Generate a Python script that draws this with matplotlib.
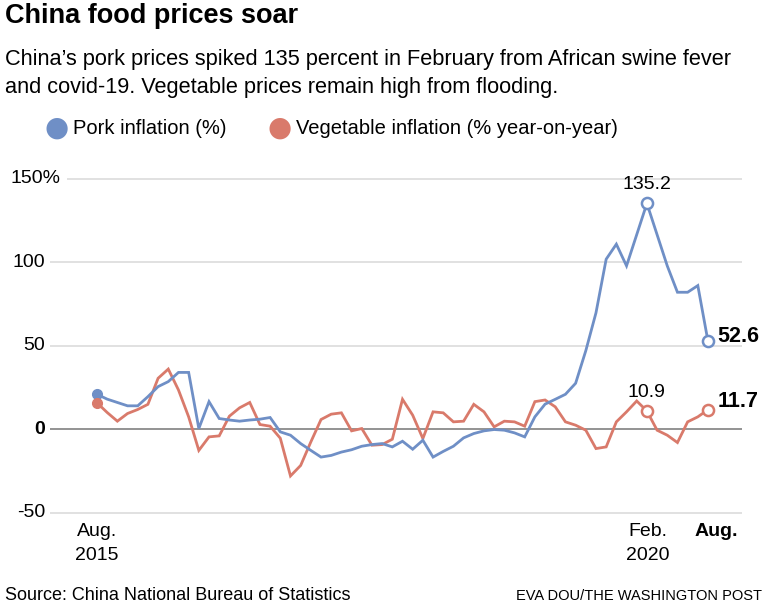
import matplotlib
matplotlib.use("Agg")
import matplotlib.pyplot as plt
import numpy as np

plt.rcParams['font.family'] = ['Liberation Sans', 'DejaVu Sans']

# monthly values, Aug 2015 .. Aug 2020
pork = [20.9, 18, 16, 14, 14, 19.5, 25.5, 28.5, 34, 34,
        0.4, 16.5, 6.4, 5.5, 4.8, 5.5, 6, 7, -1.6, -3.6,
        -8.6, -12.7, -16.7, -15.7, -13.7, -12.3, -10.2, -9.2, -8.6, -10.6,
        -7.2, -12, -6.6, -16.7, -13.3, -10.2, -5.2, -2.6, -1, -0.2,
        -0.6, -2.2, -4.6, 7.4, 15, 17.9, 20.9, 27.5, 47, 69.7,
        101.8, 110.8, 97.8, 116.5, 135.2, 116.5, 97.8, 82, 82, 86,
        52.6]
veg = [15.8, 10, 4.8, 9.4, 11.8, 14.9, 30.5, 36, 23.5, 7.4,
       -12.7, -4.6, -4, 7.8, 12.8, 16, 2.8, 1.8, -5.4, -28,
       -21.7, -7.6, 5.8, 9, 9.8, -1, 0.4, -9.6, -9.2, -6,
       17.9, 8.4, -5.6, 10.4, 9.8, 4.4, 4.8, 14.9, 10.4, 1.4,
       4.8, 4.4, 1.8, 16.5, 17.5, 13.4, 4.4, 2.4, -0.6, -11.6,
       -10.6, 4.4, 10.4, 16.9, 10.9, -0.6, -3.6, -8, 4.4, 7.4,
       11.7]
months = np.arange(len(pork))
yticks = [150, 100, 50, 0, -50]
ytick_labels = ['150%', '100', '50', '0', '-50']
feb_idx = 54

blue = '#6f8fc6'
red = '#d97a6b'

W, H = 767, 609
fig = plt.figure(figsize=(W / 100, H / 100), dpi=100)

# pixel helpers for the plot box
px_per_month = (708 - 97) / 60
px_per_unit = 1.67
x0_px, y0_px = 97, 429.2
def dx(px):
    return (px - x0_px) / px_per_month
def dy(py):
    return (y0_px - py) / px_per_unit

left_px, right_px, top_px, bot_px = 50, 742, 170, 520
ax = fig.add_axes([left_px / W, 1 - bot_px / H, (right_px - left_px) / W, (bot_px - top_px) / H])
ax.set_xlim(dx(left_px), dx(right_px))
ax.set_ylim(dy(bot_px), dy(top_px))
ax.axis('off')

for v in yticks:
    start = dx(67) if v == 150 else dx(50)
    col = '#8a8a8a' if v == 0 else '#dcdcdc'
    ax.hlines(v, start, dx(right_px), color=col, lw=1.3 if v == 0 else 1.2, zorder=1)

ax.plot(months, pork, color=blue, lw=2.0, zorder=3, solid_joinstyle='miter')
ax.plot(months, veg, color=red, lw=2.0, zorder=2, solid_joinstyle='miter')

# start dots
ax.plot(months[0], pork[0], 'o', color=blue, ms=7, zorder=4)
ax.plot(months[0], veg[0], 'o', color=red, ms=7, zorder=4)
# hollow markers
for idx in (feb_idx, months[-1]):
    ax.plot(idx, pork[idx], 'o', mfc='white', mec=blue, mew=1.8, ms=8, zorder=5)
    ax.plot(idx, veg[idx], 'o', mfc='white', mec=red, mew=1.8, ms=8, zorder=5)

ax.text(feb_idx, pork[feb_idx] + 6, f'{pork[feb_idx]}', ha='center', va='bottom', fontsize=14)
ax.text(feb_idx, veg[feb_idx] + 6, f'{veg[feb_idx]}', ha='center', va='bottom', fontsize=14)
ax.text(months[-1] + 0.9, pork[-1] + 3, f'{pork[-1]}', ha='left', va='center', fontsize=15.5, fontweight='bold')
ax.text(months[-1] + 0.9, veg[-1] + 5, f'{veg[-1]}', ha='left', va='center', fontsize=15.5, fontweight='bold')

# y labels
for v, lab in zip(yticks, ytick_labels):
    if lab.endswith('%'):
        fig.text(11 / W, 1 - (y0_px - v * px_per_unit) / H, lab, ha='left', va='center', fontsize=14)
    else:
        fig.text(45 / W, 1 - (y0_px - v * px_per_unit) / H, lab, ha='right', va='center', fontsize=14,
                 fontweight='bold' if v == 0 else 'normal')

# x labels
fig.text(97 / W, 1 - 531 / H, 'Aug.', ha='center', va='center', fontsize=14)
fig.text(97 / W, 1 - 556 / H, '2015', ha='center', va='center', fontsize=14)
fig.text(648 / W, 1 - 531 / H, 'Feb.', ha='center', va='center', fontsize=14)
fig.text(648 / W, 1 - 556 / H, '2020', ha='center', va='center', fontsize=14)
fig.text(716 / W, 1 - 531 / H, 'Aug.', ha='center', va='center', fontsize=14, fontweight='bold')

# titles
fig.text(5 / W, 1 - 16 / H, 'China food prices soar', ha='left', va='center', fontsize=19.5, fontweight='bold')
fig.text(5 / W, 1 - 59 / H, 'China\u2019s pork prices spiked 135 percent in February from African swine fever',
         ha='left', va='center', fontsize=15.7)
fig.text(5 / W, 1 - 88 / H, 'and covid-19. Vegetable prices remain high from flooding.',
         ha='left', va='center', fontsize=15.7)

# legend
fig.text(57 / W, 1 - 128 / H, '\u25cf', color=blue, ha='center', va='center', fontsize=20, family='DejaVu Sans')
fig.text(73 / W, 1 - 128 / H, 'Pork inflation (%)', ha='left', va='center', fontsize=14.5)
fig.text(280 / W, 1 - 128 / H, '\u25cf', color=red, ha='center', va='center', fontsize=20, family='DejaVu Sans')
fig.text(296 / W, 1 - 128 / H, 'Vegetable inflation (% year-on-year)', ha='left', va='center', fontsize=14.5)

# footer
fig.text(5 / W, 1 - 595 / H, 'Source: China National Bureau of Statistics', ha='left', va='center', fontsize=13)
fig.text(762 / W, 1 - 596 / H, 'EVA DOU/THE WASHINGTON POST', ha='right', va='center', fontsize=10.5)

fig.savefig('out.png', dpi=100, facecolor='white')
